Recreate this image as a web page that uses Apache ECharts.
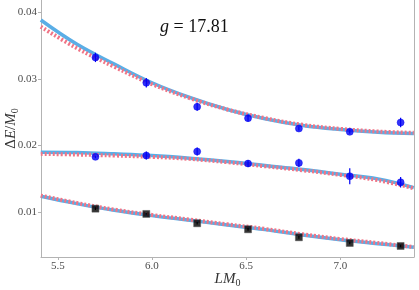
<!DOCTYPE html>
<html>
<head>
<meta charset="utf-8">
<script src="https://cdn.jsdelivr.net/npm/echarts@6/dist/echarts.min.js"></script>
<style>
  html, body { margin: 0; padding: 0; background: #fff; }
  #main { width: 419px; height: 290px; }
</style>
</head>
<body>
<div id="main"></div>
<script>
// 数据点 (LM0)
const lm = [5.70, 5.97, 6.24, 6.51, 6.78, 7.05, 7.32];
const topVals = [0.0332, 0.0294, 0.0258, 0.0241, 0.02255, 0.02205, 0.02345];
const topErr = [0.0007, 0.0007, 0.0006, 0.0005, 0.0003, 0.0003, 0.0007];
const midVals = [0.0183, 0.0185, 0.0191, 0.0173, 0.0174, 0.0154, 0.0145];
const midErr = [0.0002, 0.0006, 0.0006, 0.0005, 0.0006, 0.0012, 0.0008];
const botVals = [0.01054, 0.00975, 0.00835, 0.00745, 0.00625, 0.0054, 0.00495];
const botErr = [0.0002, 0.0001, 0.0002, 0.0002, 0.0002, 0.0002, 0.0002];

// 拟合曲线
const fitX = [5.41, 5.6, 5.8, 6.0, 6.2, 6.4, 6.6, 6.8, 7.0, 7.2, 7.39];
const topBlue = [0.0388, 0.0352, 0.0322, 0.0294, 0.0272, 0.0254, 0.0240, 0.0230, 0.0224, 0.0220, 0.0218];
const topRed = [0.0378, 0.0346, 0.0318, 0.0292, 0.0271, 0.0254, 0.0241, 0.0231, 0.0225, 0.0221, 0.0219];
const midBlue = [0.0190, 0.01895, 0.01875, 0.0185, 0.0181, 0.0176, 0.0170, 0.0164, 0.0157, 0.0150, 0.0137];
const midRed = [0.01875, 0.01865, 0.0185, 0.0183, 0.0180, 0.0175, 0.0169, 0.0163, 0.0156, 0.0148, 0.0136];
const botBlue = [0.0124, 0.0113, 0.0103, 0.0095, 0.0088, 0.0081, 0.0074, 0.0066, 0.0059, 0.0053, 0.00475];
const botRed = [0.0125, 0.0114, 0.0104, 0.0096, 0.0089, 0.0082, 0.0075, 0.0067, 0.0060, 0.0054, 0.0048];

const xTicks = [5.5, 6.0, 6.5, 7.0];
const yTicks = [0.01, 0.02, 0.03, 0.04];

const serif = "Liberation Serif";
const gray = "#b3b3b3";
const blueLine = "#5AAEE6";
const redLine = "#F07486";
const ptBlue = "#0000F5";

const myChart = echarts.init(document.getElementById("main"));

function pairs(xs, ys) {
  return xs.map((x, i) => [x, ys[i]]);
}

function fitLine(ys, color, dashed) {
  return {
    type: "line",
    data: pairs(fitX, ys),
    smooth: 0.4,
    symbol: "none",
    silent: true,
    z: dashed ? 3 : 2,
    lineStyle: dashed
      ? { color: color, width: 4, type: [2, 2] }
      : { color: color, width: 3.5 },
  };
}

function errBars(vals, errs, color) {
  return {
    type: "custom",
    z: 4,
    silent: true,
    data: lm.map((x, i) => [x, vals[i] - errs[i], vals[i] + errs[i]]),
    renderItem: function (params, api) {
      const lo = api.coord([api.value(0), api.value(1)]);
      const hi = api.coord([api.value(0), api.value(2)]);
      return {
        type: "line",
        shape: { x1: lo[0], y1: lo[1], x2: hi[0], y2: hi[1] },
        style: { stroke: color, lineWidth: 1.2 },
      };
    },
  };
}

function points(vals, symbol, color) {
  return {
    type: "scatter",
    data: pairs(lm, vals),
    symbol: symbol,
    symbolSize: 7,
    z: 5,
    itemStyle: { color: color, borderColor: symbol === "rect" ? "#555" : color, borderWidth: 0.6 },
  };
}

const option = {
  animation: false,
  grid: { left: 41, right: 5, top: 0, bottom: 33, outerBoundsMode: "none", containLabel: false },
  graphic: [
    {
      type: "text",
      left: 160,
      top: 18,
      style: {
        text: "{i|g} = 17.81",
        font: "18px " + serif,
        fill: "#111",
        rich: { i: { fontStyle: "italic", fontFamily: serif, fontSize: 18 } },
      },
    },
  ],
  xAxis: {
    type: "value",
    min: 5.411,
    max: 7.391,
    name: "{i|LM}{s|0}",
    nameLocation: "middle",
    nameGap: 13,
    nameMoveOverlap: false,
    nameTextStyle: {
      fontFamily: serif,
      color: "#333",
      rich: {
        i: { fontStyle: "italic", fontFamily: serif, fontSize: 15, color: "#333" },
        s: { fontFamily: serif, fontSize: 10, color: "#333", verticalAlign: "bottom", padding: [8, 0, 0, 0] },
      },
    },
    splitLine: { show: false },
    axisLine: { lineStyle: { color: gray, width: 1 } },
    axisTick: { length: 3, lineStyle: { color: gray }, customValues: xTicks },
    axisLabel: {
      customValues: xTicks,
      formatter: (v) => v.toFixed(1),
      fontFamily: serif,
      fontSize: 11,
      color: "#4d4d4d",
      margin: 4,
    },
  },
  yAxis: [
    {
      type: "value",
      min: 0.0033,
      max: 0.0418,
      name: "Δ{i|E}/{i|M}{s|0}",
      nameLocation: "middle",
      nameGap: 21,
      nameMoveOverlap: false,
      nameTextStyle: {
        fontFamily: serif,
        fontSize: 15,
        color: "#333",
        rich: {
          i: { fontStyle: "italic", fontFamily: serif, fontSize: 15, color: "#333" },
          s: { fontFamily: serif, fontSize: 10, color: "#333", verticalAlign: "bottom", padding: [8, 0, 0, 0] },
        },
      },
      splitLine: { show: false },
      axisLine: { show: true, lineStyle: { color: gray, width: 1 } },
      axisTick: { show: true, length: 3, lineStyle: { color: gray }, customValues: yTicks },
      axisLabel: {
        customValues: yTicks,
        formatter: (v) => v.toFixed(2),
        fontFamily: serif,
        fontSize: 11,
        color: "#4d4d4d",
        margin: 4,
      },
    },
    {
      type: "value",
      position: "right",
      min: 0.0033,
      max: 0.0418,
      splitLine: { show: false },
      axisLine: { show: true, lineStyle: { color: gray, width: 1 } },
      axisTick: { show: false },
      axisLabel: { show: false },
    },
  ],
  series: [
    fitLine(topBlue, blueLine, false),
    fitLine(midBlue, blueLine, false),
    fitLine(botBlue, blueLine, false),
    fitLine(topRed, redLine, true),
    fitLine(midRed, redLine, true),
    fitLine(botRed, redLine, true),
    errBars(topVals, topErr, ptBlue),
    errBars(midVals, midErr, ptBlue),
    errBars(botVals, botErr, "#000"),
    points(topVals, "circle", ptBlue),
    points(midVals, "circle", ptBlue),
    points(botVals, "rect", "#000"),
  ],
};

myChart.setOption(option);
</script>
</body>
</html>
